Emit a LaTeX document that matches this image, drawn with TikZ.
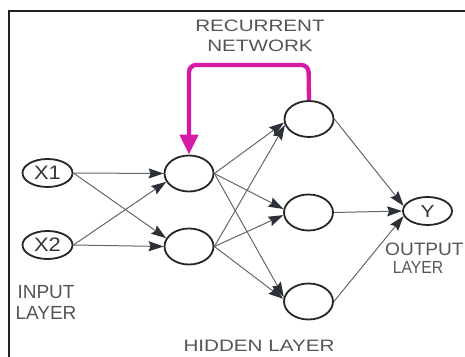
\documentclass[tikz,border=0pt]{standalone}
\usepackage{fontspec}
\setmainfont{Liberation Sans}
\usetikzlibrary{shapes.geometric,arrows.meta}

\definecolor{frameink}{HTML}{222222}
\definecolor{nodeink}{HTML}{262626}
\definecolor{linkgray}{HTML}{666666}
\definecolor{tipdark}{HTML}{2B3039}
\definecolor{captiongray}{HTML}{555555}
\definecolor{symbolgray}{HTML}{363636}
\definecolor{loopmagenta}{HTML}{D61AA6}

% horizontally widened lettering
\newcommand\widetext[2]{\scalebox{#1}[1]{#2}}

\begin{document}
\begin{tikzpicture}[
  x=1pt, y=-1pt,
  neuron/.style={ellipse, draw=nodeink, line width=1.8pt, fill=white,
    inner sep=0pt, minimum width=49pt, minimum height=36pt},
  ionode/.style={neuron, minimum width=50pt, minimum height=28pt,
    text=symbolgray, font=\fontsize{19.5}{19.5}\selectfont},
  link/.style={draw=linkgray, line width=1pt,
    -{Stealth[length=15pt, width=10pt, inset=2pt, color=tipdark]}},
  loop/.style={draw=loopmagenta, line width=4.3pt, rounded corners=7pt,
    -{Triangle[length=20pt, width=18pt, color=loopmagenta]}},
  caption/.style={text=captiongray, inner sep=0pt, align=center}
]
\useasboundingbox (0,0) rectangle (465,356);

% frame
\draw[frameink, line width=2pt] (9,360) -- (9,11) -- (470,11);

% input layer
\node[ionode] (x1) at (47.5,173) {\widetext{1.12}{X1}};
\node[ionode] (x2) at (47.5,245) {\widetext{1.12}{X2}};

% hidden layers
\node[neuron] (h1a) at (189,173.5) {};
\node[neuron] (h1b) at (189,246.5) {};
\node[neuron] (h2a) at (309,119) {};
\node[neuron] (h2b) at (308.5,212.5) {};
\node[neuron] (h2c) at (308.5,301.5) {};

% output layer
\node[ionode, minimum width=49pt, font=\fontsize{17.5}{17.5}\selectfont] (y) at (427.5,211) {\widetext{1.2}{Y}};

% captions
\node[caption, font=\fontsize{16.5}{20}\selectfont] (recurlbl) at (260,36)
  {\widetext{1.25}{RECURRENT}\\\widetext{1.25}{NETWORK}};
\node[caption, font=\fontsize{19}{20.7}\selectfont] (inlbl) at (46,302.5)
  {INPUT\\LAYER};
\node[caption, font=\fontsize{16.5}{20}\selectfont] (hidlbl) at (259,346)
  {\widetext{1.25}{HIDDEN LAYER}};
\node[caption, font=\fontsize{18}{18}\selectfont, anchor=west] (outlbla) at (385,249.5)
  {\widetext{1.06}{OUTPUT}};
\node[caption, font=\fontsize{17.5}{17.5}\selectfont] (outlblb) at (418,267)
  {\widetext{0.9}{LAYER}};

% input -> first hidden layer
\draw[link] (x1.east) -- (h1a.west);
\draw[link] (x1.east) -- (h1b.160);
\draw[link] (x2.east) -- (h1a.200);
\draw[link] (x2.east) -- (h1b.west);

% first -> second hidden layer
\draw[link] (h1a.east) -- (h2a.188);
\draw[link] (h1b.east) -- (h2a.194);
\draw[link] (h1a.east) -- (h2b.172);
\draw[link] (h1b.east) -- (h2b.186);
\draw[link] (h1a.east) -- (h2c.170);
\draw[link] (h1b.east) -- (h2c.174);

% second hidden layer -> output
\draw[link] (h2a.east) -- (y.168);
\draw[link] (h2b.east) -- (y.west);
\draw[link] (h2c.east) -- (y.192);

% recurrent feedback loop
\coordinate (loopright) at (308.5,65);
\coordinate (loopleft) at (189,65);
\draw[loop] (h2a.north) -- (loopright) -- (loopleft) -- (h1a.north);
\end{tikzpicture}
\end{document}
